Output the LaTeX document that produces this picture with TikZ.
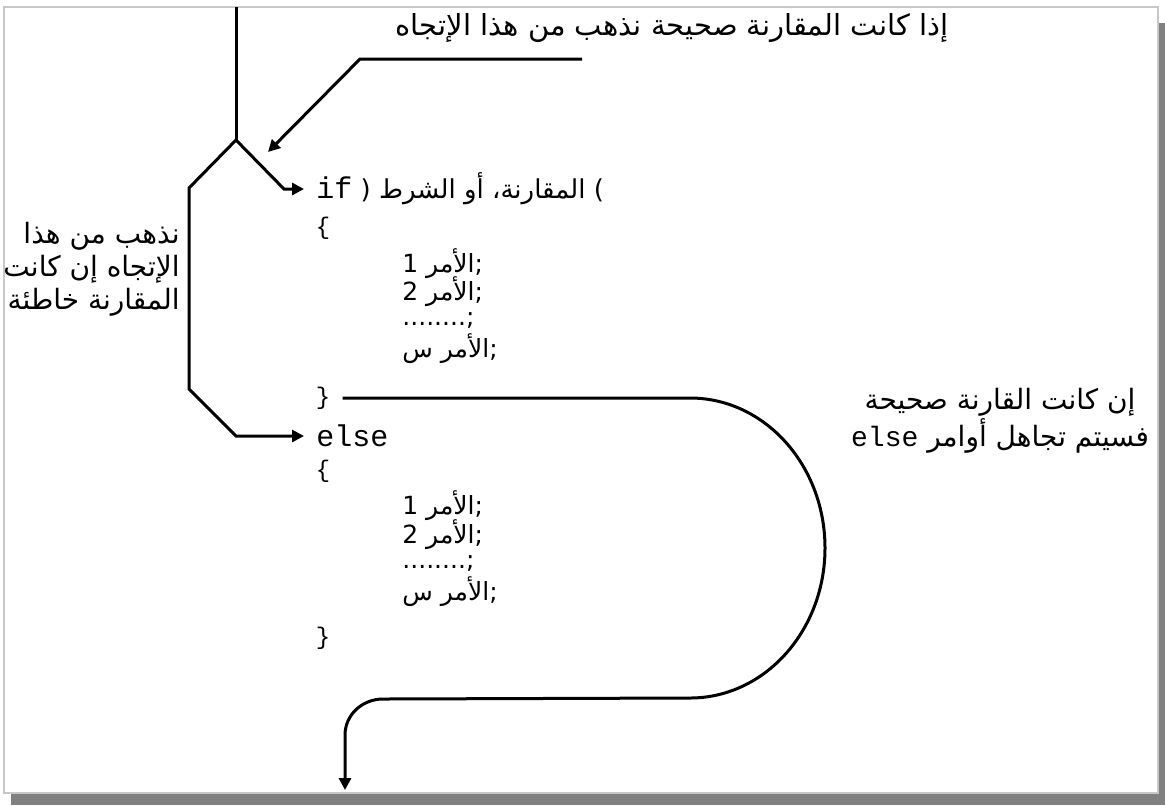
\documentclass[tikz,border=0pt]{standalone}
\usepackage{fontspec}
\usetikzlibrary{arrows.meta}
\newfontfamily\arfont[Script=Arabic]{DejaVu Sans}
\newfontfamily\plainfont{DejaVu Sans}
\newfontfamily\codefont{Liberation Mono}
\TeXXeTstate=1
\newcommand\kw[1]{{\codefont\fontsize{14}{16}\selectfont #1}}
\definecolor{framegray}{RGB}{200,200,200}
\definecolor{shadowgray}{RGB}{128,128,128}

\begin{document}
\begin{tikzpicture}[x=0.5pt,y=-0.5pt,
    flow/.style={line width=1.5pt},
    jump/.style={flow,-{Triangle[length=6pt,width=6pt]}},
    ar/.style={font=\arfont\fontsize{14}{16.5}\selectfont, inner sep=0pt},
    stmt/.style={font=\arfont\fontsize{12.5}{14}\selectfont, inner sep=0pt, anchor=west},
    dots/.style={font=\plainfont\fontsize{12.5}{14}\selectfont, inner sep=0pt, anchor=west},
    code/.style={font=\codefont\fontsize{15}{18}\selectfont, inner sep=0pt},
    brace/.style={font=\codefont\fontsize{12}{14}\selectfont, inner sep=0pt}]
\useasboundingbox (0,0) rectangle (1165,805);

% sheet with its drop shadow
\fill[shadowgray] (11,23) rectangle (1165,805);
\filldraw[fill=white, draw=framegray, line width=1pt] (4,7) rectangle (1158,793);

% notes
\node[ar, font=\arfont\fontsize{14.5}{16.5}\selectfont] (truenote) at (672,28)
    {\beginR إذا كانت المقارنة صحيحة نذهب من هذا الإتجاه\endR};
\node[ar, align=right, anchor=east] (falsenote) at (180,269)
    {\beginR نذهب من هذا\endR\\
     \beginR الإتجاه إن كانت\endR\\
     \beginR المقارنة خاطئة\endR};
\node[ar, align=center, font=\arfont\fontsize{14}{16}\selectfont] (skipnote) at (1000,421)
    {\beginR إن كانت القارنة صحيحة\endR\\
     \beginR فسيتم تجاهل أوامر \beginL\kw{else}\endL\endR};

% if block
\node[ar, font=\arfont\fontsize{13}{16}\selectfont, anchor=west, inner xsep=6pt] (iftest) at (304,189)
    {{\codefont\fontsize{15}{18}\selectfont if} ( \beginR المقارنة، أو الشرط\endR{} )};
\node[brace] (open1) at (323,228) {\{};
\node[stmt] (if1) at (402,264) {\beginR الأمر 1\endR;};
\node[stmt] (if2) at (402,292) {\beginR الأمر 2\endR;};
\node[dots] (if3) at (402,320) {........;};
\node[stmt] (if4) at (402,349) {\beginR الأمر س\endR;};
\node[brace] (close1) at (323,398) {\}};

% else block
\node[code, anchor=west, inner xsep=6pt] (elsekw) at (304,436) {else};
\node[brace] (open2) at (323,471) {\{};
\node[stmt] (else1) at (402,506) {\beginR الأمر 1\endR;};
\node[stmt] (else2) at (402,535) {\beginR الأمر 2\endR;};
\node[dots] (else3) at (402,563) {........;};
\node[stmt] (else4) at (402,592) {\beginR الأمر س\endR;};
\node[brace] (close2) at (323,638) {\}};

% flow lines
\coordinate (top) at (236,7);
\coordinate (fork) at (236,140);
\coordinate (rbend) at (284,189);
\coordinate (lbend1) at (189,188);
\coordinate (lbend2) at (189,389);
\coordinate (lbend3) at (236,436);
\coordinate (pstart) at (582,59);
\coordinate (pbend) at (360,59);
\coordinate (ptip) at (268,152);
\coordinate (loopA) at (690,398);
\coordinate (loopC) at (383,699);
\coordinate (bendC) at (345,735);
\coordinate (exit) at (345,790);

\draw[flow] (top) -- (fork);
\draw[jump] (fork) -- (rbend) -- (iftest.west);
\draw[jump] (fork) -- (lbend1) -- (lbend2) -- (lbend3) -- (elsekw.west);
\draw[jump] (pstart) -- (pbend) -- (ptip);
\draw[jump, shorten <=6pt] (close1.east) -- (loopA)
    arc[start angle=90, end angle=-90, x radius=67.5pt, y radius=75pt]
    -- (loopC) to[out=180, in=90] (bendC) -- (exit);
\end{tikzpicture}
\end{document}
